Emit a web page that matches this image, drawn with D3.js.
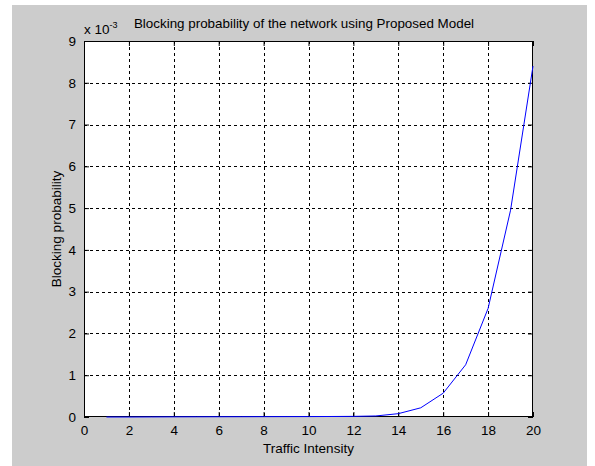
<!DOCTYPE html>
<html>
<head>
<meta charset="utf-8">
<script src="https://cdn.jsdelivr.net/npm/d3@7"></script>
<style>
  body { margin: 0; background: #fff; }
  text { font-family: Arial, "Liberation Sans", sans-serif; fill: #000; }
</style>
</head>
<body>
<svg id="chart" width="595" height="466"></svg>
<script>
var traffic = [1, 2, 3, 4, 5, 6, 7, 8, 9, 10, 11, 12, 13, 14, 15, 16, 17, 18, 19, 20];
var blocking = [0, 0, 0.000002, 0.000004, 0.000005, 0.000006, 0.000007, 0.000008, 0.000009, 0.00001,
                0.000012, 0.000015, 0.000025, 0.00008, 0.00022, 0.00057, 0.00125, 0.0026, 0.00495, 0.0084];
var xTicks = [0, 2, 4, 6, 8, 10, 12, 14, 16, 18, 20];
var yTicks = [0, 1, 2, 3, 4, 5, 6, 7, 8, 9];

var title = "Blocking probability of the network using Proposed Model";
var xLabel = "Traffic Intensity";
var yLabel = "Blocking probability";

var svg = d3.select("#chart");

// gray figure background
svg.append("rect")
  .attr("x", 12).attr("y", 5)
  .attr("width", 575).attr("height", 461)
  .attr("fill", "#cccccc");

var pLeft = 84, pRight = 533, pTop = 41, pBottom = 417;

var x = d3.scaleLinear().domain([0, 20]).range([pLeft, pRight]);
var y = d3.scaleLinear().domain([0, 9]).range([pBottom, pTop]);

svg.append("rect")
  .attr("x", pLeft).attr("y", pTop)
  .attr("width", pRight - pLeft).attr("height", pBottom - pTop)
  .attr("fill", "#fff");

// dashed grid
var grid = svg.append("g");
grid.selectAll(".gx")
  .data(xTicks.slice(1, -1)).enter().append("line")
  .attr("x1", d => Math.round(x(d)) + 0.5).attr("x2", d => Math.round(x(d)) + 0.5)
  .attr("y1", pTop).attr("y2", pBottom)
  .attr("stroke", "#000").attr("stroke-width", 1)
  .attr("stroke-dasharray", "3,3");
grid.selectAll(".gy")
  .data(yTicks.slice(1, -1)).enter().append("line")
  .attr("y1", d => Math.round(y(d)) + 0.5).attr("y2", d => Math.round(y(d)) + 0.5)
  .attr("x1", pLeft).attr("x2", pRight)
  .attr("stroke", "#000").attr("stroke-width", 1)
  .attr("stroke-dasharray", "3,3");

// axes, ticks inside like matlab
var tk = 5;
svg.append("g")
  .attr("transform", "translate(0," + pBottom + ")")
  .call(d3.axisBottom(x).tickValues(xTicks).tickSizeInner(-tk).tickSizeOuter(0).tickPadding(8))
  .call(g => g.select(".domain").remove());
svg.append("g")
  .attr("transform", "translate(0," + pTop + ")")
  .call(d3.axisTop(x).tickValues(xTicks).tickSizeInner(-tk).tickSizeOuter(0).tickFormat(""))
  .call(g => g.select(".domain").remove());
svg.append("g")
  .attr("transform", "translate(" + pLeft + ",0)")
  .call(d3.axisLeft(y).tickValues(yTicks).tickSizeInner(-tk).tickSizeOuter(0).tickPadding(8))
  .call(g => g.select(".domain").remove());
svg.append("g")
  .attr("transform", "translate(" + pRight + ",0)")
  .call(d3.axisRight(y).tickValues(yTicks).tickSizeInner(-tk).tickSizeOuter(0).tickFormat(""))
  .call(g => g.select(".domain").remove());

svg.selectAll(".tick text")
  .style("font-size", "13.5px")
  .style("font-family", "Arial, 'Liberation Sans', sans-serif");

svg.append("rect")
  .attr("x", pLeft + 0.5).attr("y", pTop + 0.5)
  .attr("width", pRight - pLeft - 1).attr("height", pBottom - pTop - 1)
  .attr("fill", "none").attr("stroke", "#000").attr("stroke-width", 1);

// the curve
var line = d3.line()
  .x((d, i) => x(traffic[i]))
  .y(d => y(d * 1000));
svg.append("path")
  .datum(blocking)
  .attr("d", line)
  .attr("fill", "none")
  .attr("stroke", "#0000ff")
  .attr("stroke-width", 1);

// exponent label
var ex = svg.append("text").attr("x", pLeft).attr("y", 34).style("font-size", "13.5px");
ex.append("tspan").text("x 10");
ex.append("tspan").attr("dy", -6).style("font-size", "9px").text("-3");

svg.append("text")
  .attr("x", 304).attr("y", 28)
  .attr("text-anchor", "middle")
  .style("font-size", "13.4px")
  .text(title);

svg.append("text")
  .attr("x", (pLeft + pRight) / 2).attr("y", 453)
  .attr("text-anchor", "middle")
  .style("font-size", "13.5px")
  .text(xLabel);

svg.append("text")
  .attr("transform", "translate(61," + (pTop + pBottom) / 2 + ") rotate(-90)")
  .attr("text-anchor", "middle")
  .style("font-size", "13.5px")
  .text(yLabel);
</script>
</body>
</html>
